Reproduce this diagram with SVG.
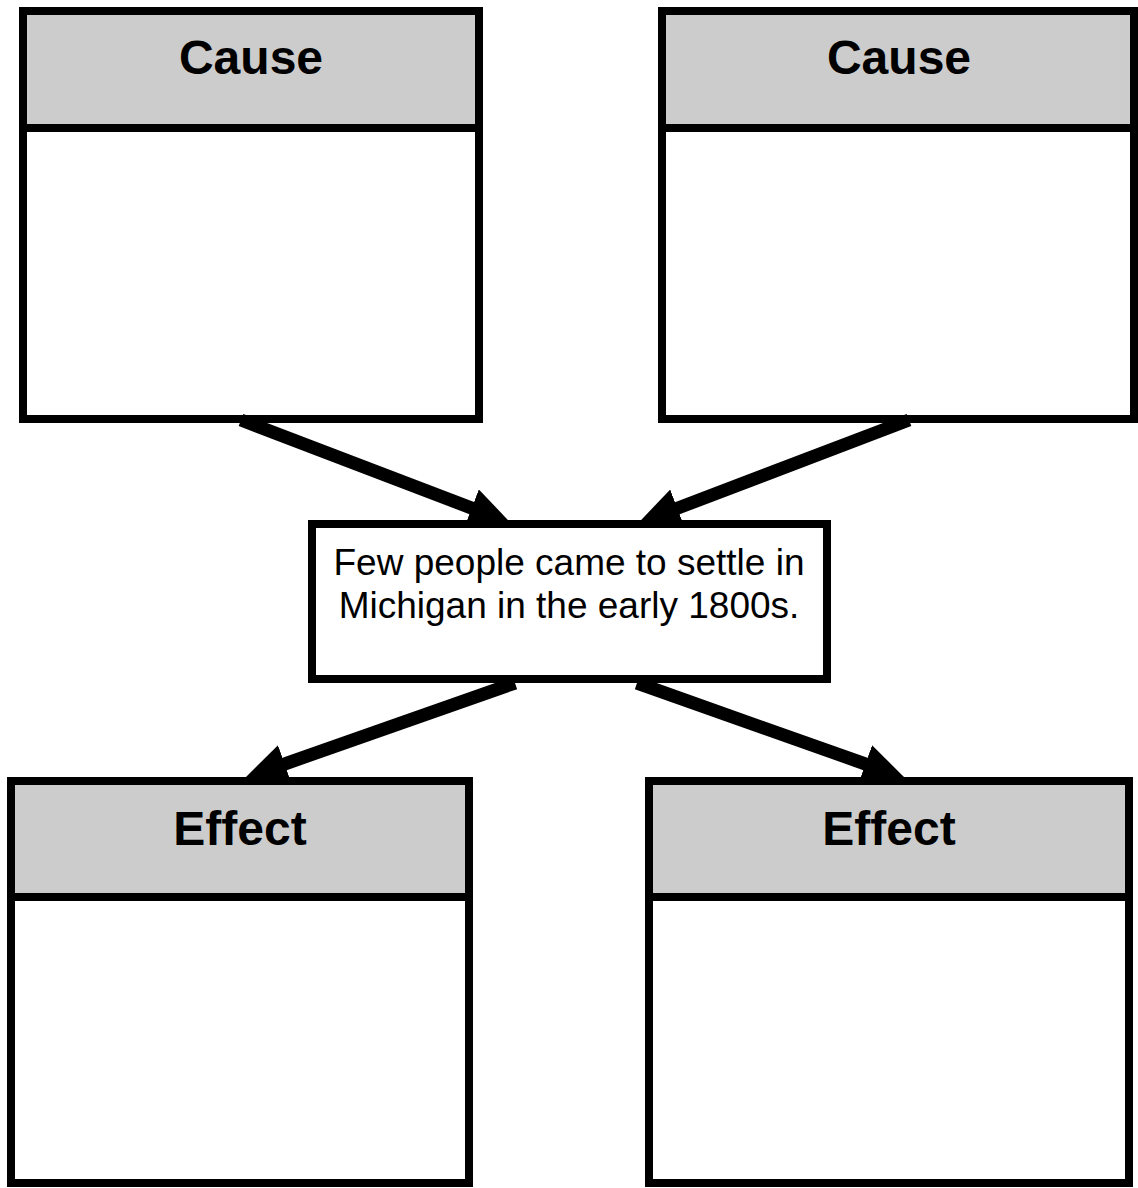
<svg xmlns="http://www.w3.org/2000/svg" width="1138" height="1188" viewBox="0 0 1138 1188">
<style>
.box{fill:#ffffff;stroke:#000000;stroke-width:8}
.head{fill:#cccccc;stroke:#000000;stroke-width:8}
.title{font-family:"Liberation Sans",Arial,sans-serif;font-weight:bold;font-size:48px;text-anchor:middle;fill:#000000}
.body{font-family:"Liberation Sans",Arial,sans-serif;font-size:37px;text-anchor:middle;fill:#000000}
.conn{stroke:#000000;stroke-width:13;fill:none;marker-end:url(#arrow)}
</style>
<defs>
<marker id="arrow" viewBox="0 0 42 40" refX="12" refY="20" markerWidth="42" markerHeight="40" markerUnits="userSpaceOnUse" orient="auto">
<polygon points="0,0 42,20 0,40" fill="#000000"/>
</marker>
</defs>
<rect width="1138" height="1188" fill="#ffffff"/>
<g id="cause-left">
<rect class="box" x="23" y="11" width="456" height="408"/>
<rect class="head" x="23" y="11" width="456" height="117"/>
<text class="title" x="251" y="74">Cause</text>
</g>
<g id="cause-right">
<rect class="box" x="662" y="11" width="472" height="408"/>
<rect class="head" x="662" y="11" width="472" height="117"/>
<text class="title" x="899" y="74">Cause</text>
</g>
<g id="event">
<rect class="box" x="312" y="524" width="515" height="155"/>
<text class="body" x="569" y="575">Few people came to settle in</text>
<text class="body" x="569" y="618">Michigan in the early 1800s.</text>
</g>
<g id="effect-left">
<rect class="box" x="11" y="781" width="458" height="402"/>
<rect class="head" x="11" y="781" width="458" height="116"/>
<text class="title" x="240" y="845">Effect</text>
</g>
<g id="effect-right">
<rect class="box" x="649" y="781" width="480" height="402"/>
<rect class="head" x="649" y="781" width="480" height="116"/>
<text class="title" x="889" y="845">Effect</text>
</g>
<g id="connectors">
<line class="conn" x1="241" y1="420" x2="482.9" y2="512.4"/>
<line class="conn" x1="909" y1="420" x2="666.1" y2="512.5"/>
<line class="conn" x1="515" y1="683" x2="273.3" y2="768"/>
<line class="conn" x1="637" y1="683" x2="876.7" y2="768"/>
</g>
</svg>
